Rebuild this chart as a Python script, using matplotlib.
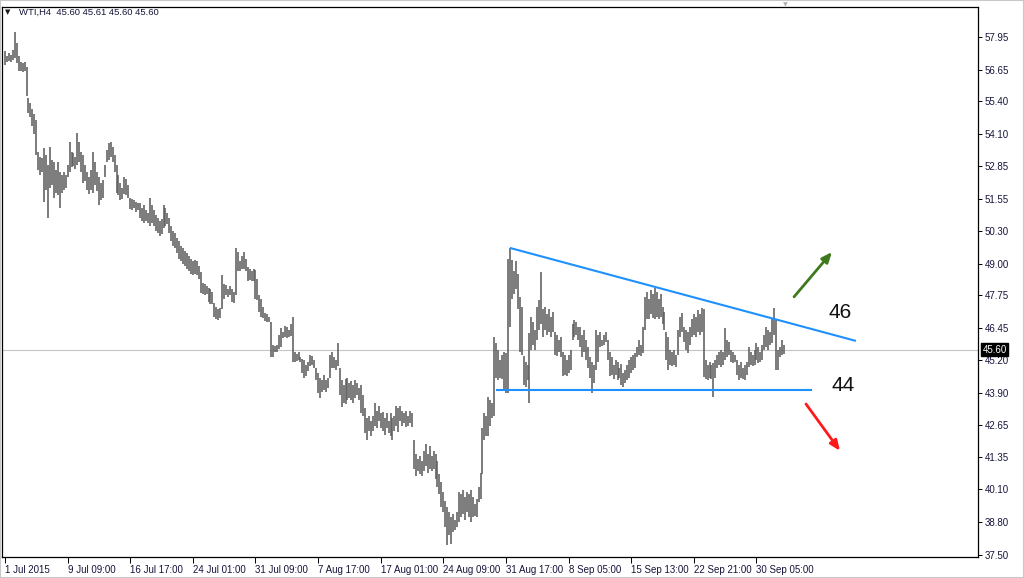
import matplotlib
matplotlib.use("Agg")
import matplotlib.pyplot as plt
import matplotlib.transforms as mtransforms
from matplotlib.patches import Rectangle
import numpy as np

# ---------------- data ----------------
symbol_header = "WTI,H4  45.60 45.61 45.60 45.60"

highs = [
    57.40, 57.20, 57.30, 57.25, 57.45, 58.15, 57.70, 57.20, 56.95, 56.90,
    56.95, 56.75, 55.55, 55.35, 55.10, 54.90, 54.65, 53.40, 53.20, 53.15,
    53.55, 53.30, 52.90, 53.60, 53.10, 53.00, 52.70, 53.00, 52.60, 52.50,
    52.60, 52.50, 52.90, 53.80, 53.40, 53.35, 53.20, 54.15, 53.80, 53.40,
    53.30, 52.90, 52.60, 52.40, 52.70, 53.40, 53.00, 52.60, 52.40, 52.20,
    52.30, 52.90, 53.50, 53.75, 53.80, 53.60, 53.30, 52.90, 52.50, 52.20,
    52.00, 52.40, 52.35, 52.10, 51.60, 51.55, 51.50, 51.45, 51.40, 51.40,
    51.20, 51.30, 51.10, 51.00, 51.60, 51.30, 51.10, 50.90, 50.80, 50.70,
    50.75, 51.30, 51.20, 51.00, 50.80, 50.50, 50.30, 50.20, 50.00, 49.90,
    49.70, 49.60, 49.50, 49.40, 49.30, 49.20, 49.10, 49.15, 49.10, 48.90,
    48.65, 48.25, 48.20, 48.10, 48.05, 48.00, 47.90, 47.45, 47.30, 47.20,
    47.25, 48.55, 48.20, 48.15, 48.00, 48.10, 48.00, 47.90, 49.62, 49.45,
    49.10, 49.30, 49.45, 49.20, 48.85, 48.80, 48.70, 48.80, 48.75, 48.40,
    47.75, 47.60, 47.30, 47.05, 47.00, 46.90, 46.70, 45.80, 45.75, 45.80,
    46.20, 46.45, 46.30, 46.55, 46.50, 46.40, 46.60, 46.90, 45.50, 45.45,
    45.50, 45.30, 45.25, 45.20, 45.00, 45.10, 45.40, 45.35, 45.20, 44.90,
    44.70, 44.50, 44.40, 44.60, 44.40, 44.50, 45.40, 45.50, 45.30, 45.20,
    45.87, 44.90, 44.40, 44.20, 44.45, 44.50, 44.30, 44.35, 44.20, 44.40,
    44.30, 44.10, 44.20, 43.80, 43.30, 42.90, 43.00, 42.80, 43.00, 43.50,
    43.20, 43.40, 43.10, 43.15, 42.90, 43.10, 42.80, 43.10, 42.90, 43.00,
    43.40, 43.30, 43.40, 43.20, 43.10, 43.20, 43.00, 43.20, 43.10, 42.05,
    41.50, 41.30, 41.40, 41.20, 41.60, 41.90, 41.50, 41.80, 41.40, 41.60,
    41.50, 41.20, 40.70, 40.40, 40.00, 39.65, 39.40, 39.20, 39.00, 39.10,
    38.90, 39.20, 40.00, 39.90, 40.05, 39.80, 40.00, 39.90, 40.05, 39.80,
    39.50, 39.70, 40.20, 40.75, 42.50, 43.10, 43.00, 43.75, 43.60, 43.50,
    46.10, 45.85, 45.60, 45.20, 45.40, 45.50, 45.47, 49.20, 49.62, 49.15,
    48.70, 49.10, 48.60, 47.70, 47.30, 45.35, 45.10, 45.00, 46.26, 46.90,
    46.70, 46.40, 47.30, 47.57, 48.67, 47.20, 47.30, 47.00, 47.20, 46.90,
    47.10, 46.30, 46.20, 46.00, 46.10, 45.50, 45.40, 45.20, 45.40, 45.60,
    46.60, 46.78, 46.70, 46.50, 46.50, 46.20, 46.40, 46.00, 45.70, 45.30,
    45.10, 45.00, 46.38, 46.20, 46.30, 46.00, 46.20, 46.30, 46.00, 45.50,
    45.30, 45.00, 45.20, 45.10, 44.90, 45.05, 44.70, 44.80, 45.00, 45.20,
    45.30, 45.40, 45.47, 45.70, 45.99, 45.80, 46.50, 47.69, 47.90, 47.60,
    47.96, 47.80, 48.04, 47.90, 47.60, 47.80, 47.29, 47.10, 46.30, 46.10,
    45.60, 45.50, 45.59, 45.40, 46.40, 46.90, 47.06, 46.50, 46.40, 46.30,
    46.50, 46.80, 47.00, 46.90, 47.17, 47.00, 47.25, 47.20, 45.20, 45.00,
    45.10, 45.00, 45.08, 45.20, 45.40, 45.50, 45.59, 45.50, 46.46, 46.00,
    45.90, 45.59, 45.50, 45.40, 45.20, 45.00, 45.10, 44.90, 45.00, 45.10,
    45.71, 45.50, 45.40, 45.60, 45.87, 45.70, 45.50, 45.80, 46.20, 46.50,
    46.40, 46.30, 46.80, 47.25, 46.80, 45.59, 45.70, 45.99, 45.80, 45.61,
]

lows = [
    56.85, 56.95, 57.00, 56.95, 57.05, 57.10, 56.90, 56.60, 56.60, 56.55,
    56.62, 55.60, 54.95, 54.80, 54.45, 54.10, 53.30, 52.70, 52.50, 52.60,
    51.45, 51.90, 50.80, 52.00, 52.10, 51.60, 51.80, 51.70, 51.20, 51.80,
    51.90, 52.00, 52.40, 52.60, 52.80, 52.85, 52.75, 52.90, 53.00, 52.60,
    52.20, 52.25, 51.90, 51.75, 51.90, 51.80, 52.10, 51.85, 51.30, 51.50,
    51.60, 52.40, 53.00, 53.10, 53.20, 53.00, 52.60, 51.80, 51.70, 51.50,
    51.55, 51.75, 51.70, 51.60, 51.15, 51.10, 51.20, 51.05, 51.10, 50.80,
    50.70, 50.60, 50.70, 50.60, 50.50, 50.60, 50.50, 50.30, 50.20, 50.10,
    50.15, 50.40, 50.50, 50.55, 50.20, 49.90, 49.70, 49.60, 49.40, 49.20,
    49.10, 49.00, 48.90, 48.80, 48.70, 48.60, 48.55, 48.60, 48.55, 48.40,
    47.85, 47.80, 47.75, 47.80, 47.50, 47.40, 47.40, 46.90, 46.80, 46.78,
    46.85, 47.20, 47.60, 47.75, 47.70, 47.75, 47.50, 47.45, 47.75, 48.70,
    48.70, 48.80, 48.80, 48.70, 48.30, 48.35, 48.30, 48.30, 47.60, 47.55,
    47.10, 46.90, 46.85, 46.75, 46.70, 46.70, 45.30, 45.30, 45.50, 45.50,
    45.65, 45.70, 46.05, 46.10, 46.05, 46.10, 46.15, 45.10, 45.10, 45.15,
    45.20, 45.10, 44.70, 44.50, 44.55, 44.75, 44.95, 45.00, 44.90, 44.40,
    43.90, 43.70, 43.95, 44.00, 43.95, 44.10, 44.50, 44.90, 44.90, 44.80,
    44.95, 43.80, 43.35, 43.50, 43.45, 43.60, 43.70, 43.60, 43.50, 43.70,
    43.80, 43.60, 43.10, 43.00, 42.30, 42.05, 42.40, 42.20, 42.40, 42.60,
    42.50, 42.80, 42.50, 42.40, 42.25, 42.50, 42.30, 42.20, 42.05, 42.40,
    42.60, 42.35, 42.80, 42.60, 42.70, 42.55, 42.60, 42.70, 42.55, 40.90,
    40.60, 40.80, 40.70, 40.60, 40.80, 41.00, 40.75, 40.90, 40.80, 40.90,
    40.50, 40.20, 39.90, 39.40, 39.20, 38.60, 37.90, 38.30, 37.95, 38.40,
    38.50, 38.60, 38.80, 39.00, 39.10, 38.90, 39.20, 39.00, 38.80, 39.00,
    39.05, 39.00, 39.60, 39.70, 40.70, 42.05, 42.20, 42.20, 42.60, 42.90,
    43.00, 44.50, 44.40, 44.50, 44.45, 44.00, 43.90, 43.90, 46.50, 47.60,
    47.80, 48.00, 47.20, 45.50, 45.40, 44.20, 44.15, 44.40, 43.50, 45.60,
    45.80, 45.60, 46.00, 46.40, 46.60, 46.10, 46.40, 46.20, 46.30, 46.10,
    46.30, 45.40, 45.35, 45.50, 45.30, 44.55, 44.60, 44.55, 44.70, 44.80,
    46.00, 46.10, 46.20, 46.00, 45.70, 45.30, 45.50, 45.20, 44.90, 44.50,
    43.90, 44.30, 44.80, 45.10, 45.70, 45.75, 45.80, 45.90, 45.20, 44.55,
    44.60, 44.45, 44.60, 44.40, 44.50, 44.20, 44.15, 44.30, 44.40, 44.50,
    44.70, 44.80, 44.90, 45.30, 45.40, 45.35, 45.47, 46.40, 46.80, 46.80,
    47.00, 46.85, 46.80, 46.90, 46.80, 46.90, 46.60, 46.40, 45.20, 44.80,
    45.00, 44.95, 45.00, 44.93, 45.40, 46.10, 46.30, 45.90, 45.60, 45.47,
    45.80, 46.10, 46.20, 46.10, 46.30, 46.20, 46.30, 44.53, 44.45, 44.41,
    44.50, 44.45, 43.74, 44.50, 44.90, 45.00, 44.93, 45.00, 45.20, 45.32,
    45.40, 45.10, 45.08, 45.10, 44.60, 44.41, 44.50, 44.45, 44.41, 44.60,
    44.93, 45.00, 44.95, 45.00, 45.20, 45.08, 45.10, 45.20, 45.59, 45.70,
    45.60, 45.80, 45.87, 46.20, 44.80, 44.80, 45.32, 45.40, 45.45, 45.60,
]

date_labels = ["1 Jul 2015", "9 Jul 09:00", "16 Jul 17:00", "24 Jul 01:00",
               "31 Jul 09:00", "7 Aug 17:00", "17 Aug 01:00", "24 Aug 09:00",
               "31 Aug 17:00", "8 Sep 05:00", "15 Sep 13:00", "22 Sep 21:00",
               "30 Sep 05:00"]
bars_per_label = 32

price_ticks = [57.95, 56.65, 55.40, 54.10, 52.85, 51.55, 50.30, 49.00, 47.75,
               46.45, 45.20, 43.90, 42.65, 41.35, 40.10, 38.80, 37.50]

last_price = 45.60

# triangle lines (bar index, price)
upper_line_x = [258, 434.8]
upper_line_y = [49.62, 45.95]
lower_line_x = [250.9, 412.4]
lower_line_y = [44.01, 44.01]

# ---------------- figure ----------------
W, H = 1024, 578
fig = plt.figure(figsize=(W / 100, H / 100), dpi=100)
fig.patch.set_facecolor("white")

left_px, right_px, top_px, bottom_px = 2, 978, 7, 557
ax = fig.add_axes([left_px / W, 1 - bottom_px / H,
                   (right_px - left_px) / W, (bottom_px - top_px) / H])

n = len(highs)
idx = np.arange(n)

ax.set_xlim(-1.53, 497.2)
ax.set_ylim(37.42, 59.13)

# current price line
ax.axhline(last_price, color="#c4c4c4", lw=0.8, zorder=1)

# OHLC bars
ax.vlines(idx, lows, highs, colors="#5e5e5e", linewidth=1.15, zorder=2)

# triangle lines
ax.plot(upper_line_x, upper_line_y, color="#1e90ff", lw=1.5, zorder=3,
        solid_capstyle="butt")
ax.plot(lower_line_x, lower_line_y, color="#1e90ff", lw=1.5, zorder=3,
        solid_capstyle="butt")

# arrows
ax.annotate("", xy=(422.6, 49.46), xytext=(403.2, 47.69),
            arrowprops=dict(arrowstyle="-|>,head_length=0.6,head_width=0.25",
                            color="#3e7a1c", lw=2.0, shrinkA=0, shrinkB=0))
ax.annotate("", xy=(426.7, 41.61), xytext=(409.3, 43.46),
            arrowprops=dict(arrowstyle="-|>,head_length=0.6,head_width=0.25",
                            color="#ff1a1a", lw=2.0, shrinkA=0, shrinkB=0))

ax.text(426.7, 47.09, "46", fontsize=15, family="Liberation Sans",
        ha="center", va="center", color="#111111")
ax.text(428.2, 44.17, "44", fontsize=15, family="Liberation Sans",
        ha="center", va="center", color="#111111")

# axes styling
for s in ax.spines.values():
    s.set_color("#000000")
    s.set_linewidth(0.9)

ax.yaxis.tick_right()
ax.set_yticks(price_ticks)
ax.set_yticklabels([f"{p:.2f}" for p in price_ticks])
ax.tick_params(axis="y", direction="out", length=3, width=0.7, pad=2,
               labelsize=7, colors="#000000", labelcolor="#15153a")

xt = [k * bars_per_label for k in range(len(date_labels))]
ax.set_xticks(xt)
ax.set_xticklabels(date_labels, ha="left")
ax.tick_params(axis="x", direction="out", length=4, width=0.7, pad=1.5,
               labelsize=7, colors="#000000", labelcolor="#15153a")
for lab in ax.get_xticklabels() + ax.get_yticklabels():
    lab.set_family("Liberation Sans")

# current price tag
trans = mtransforms.blended_transform_factory(ax.transAxes, ax.transData)
ax.text(1.0045, last_price, f"{last_price:.2f}", transform=trans,
        ha="left", va="center", fontsize=7, family="Liberation Sans",
        color="white", zorder=10, clip_on=False,
        bbox=dict(boxstyle="square,pad=0.15", fc="black", ec="black"))

# header
fig.text(5 / W, 1 - 12 / H, "\u25bc", fontsize=5, color="#1a1a1a",
         ha="left", va="center", family="DejaVu Sans")
fig.text(19 / W, 1 - 12 / H, symbol_header, fontsize=6.8, color="#15153a",
         ha="left", va="center", family="Liberation Sans")

# small shift marker at top
fig.text(785 / W, 1 - 5 / H, "\u25bc", fontsize=4.5, color="#b0b0b0",
         ha="center", va="center", family="DejaVu Sans")

# outer light border
fig.patches.append(Rectangle((0, 0), 1, 1, transform=fig.transFigure,
                             fill=False, ec="#c8c8c8", lw=1.5))

fig.savefig("out.png", dpi=100, facecolor="white")
